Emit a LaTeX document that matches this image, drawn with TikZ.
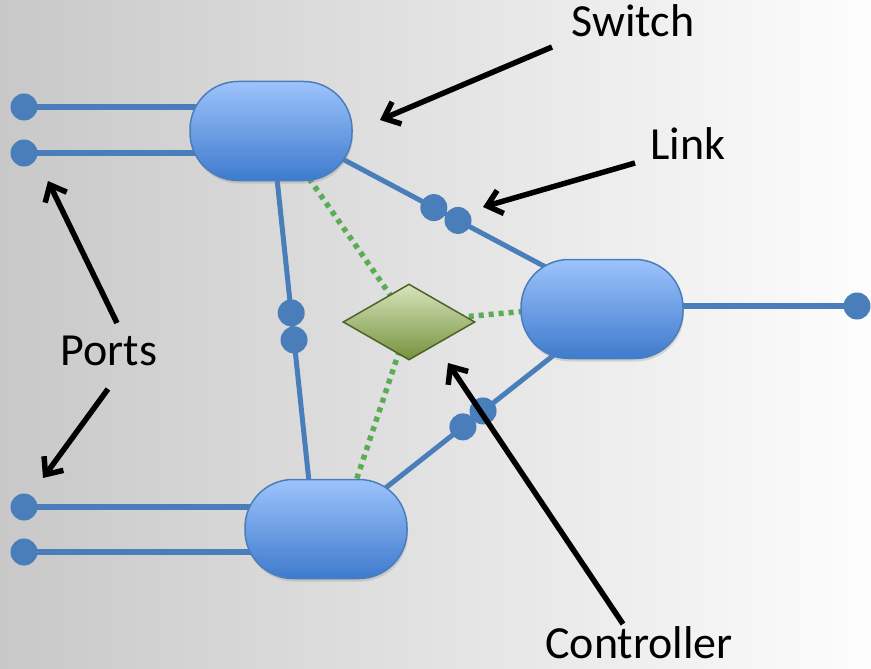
\documentclass[tikz,border=0pt]{standalone}
\usepackage{fontspec}
\setmainfont{Carlito}
\usetikzlibrary{arrows.meta,shapes.geometric,shadows}

\definecolor{linkblue}{RGB}{74,126,187}
\definecolor{swtop}{RGB}{157,195,252}
\definecolor{swbot}{RGB}{62,123,205}
\definecolor{ctltop}{RGB}{215,228,189}
\definecolor{ctlbot}{RGB}{118,146,60}
\definecolor{ctledge}{RGB}{79,98,40}
\definecolor{ctlline}{RGB}{92,172,86}
\definecolor{bgleft}{RGB}{200,200,200}
\definecolor{bgright}{RGB}{253,253,253}

\pgfdeclarelayer{bg}
\pgfdeclarelayer{wires}
\pgfsetlayers{bg,wires,main}

\begin{document}
\begin{tikzpicture}[x=1pt,y=-1pt,
  switchbox/.style={rectangle, rounded corners=48pt, minimum width=162pt,
    minimum height=99pt, inner sep=0pt, top color=swtop, bottom color=swbot,
    draw=linkblue, line width=1.5pt,
    drop shadow={shadow xshift=1pt, shadow yshift=-3pt, opacity=0.25}},
  ctlbox/.style={diamond, minimum width=132pt, minimum height=76pt, inner sep=0pt,
    top color=ctltop, bottom color=ctlbot, draw=ctledge, line width=1.5pt},
  portdot/.style={circle, fill=linkblue, minimum size=27pt, inner sep=0pt},
  portline/.style={draw=linkblue, line width=6pt},
  linkline/.style={draw=linkblue, line width=5pt},
  ctlwire/.style={draw=ctlline, line width=5.5pt, dash pattern=on 5pt off 5pt},
  pointer/.style={draw=black, line width=5.5pt,
    -{Straight Barb[length=14pt, width=24pt]}},
  lbl/.style={font=\fontsize{46}{55}\selectfont, anchor=base, inner sep=0pt}]

% canvas
\begin{pgfonlayer}{bg}
  \fill[left color=bgleft, right color=bgright] (0,0) rectangle (871,669);
\end{pgfonlayer}
\useasboundingbox (0,0) rectangle (871,669);

% switches and controller
\node[switchbox] (s1) at (271,131) {};
\node[switchbox] (s2) at (602,309) {};
\node[switchbox] (s3) at (326,529) {};
\node[ctlbox] (ctl) at (409,322) {};

% external ports
\node[portdot] (p1) at (24,107) {};
\node[portdot] (p2) at (24,153) {};
\node[portdot] (p3) at (24,507) {};
\node[portdot] (p4) at (24,552) {};
\node[portdot] (p5) at (857,306) {};

\begin{pgfonlayer}{wires}
  % control channels
  \draw[ctlwire] (ctl.center) -- ([xshift=5pt]s1.center);
  \draw[ctlwire] (ctl.center) -- ([yshift=5pt]s2.center);
  \draw[ctlwire] (ctl.center) -- ([xshift=14pt]s3.center);
  % port wires
  \draw[portline] (p1.center) -- (s1.center |- p1.center);
  \draw[portline] (p2.center) -- (s1.center |- p2.center);
  \draw[portline] (p3.center) -- (s3.center |- p3.center);
  \draw[portline] (p4.center) -- (s3.center |- p4.center);
  \draw[portline] (p5.center) -- (s2.center |- p5.center);
  % links between switches
  \draw[linkline] ([yshift=10pt]s1.center) -- ([yshift=12pt]s2.center);
  \draw[linkline] ([xshift=1pt]s1.center) -- ([xshift=-12pt]s3.center);
  \draw[linkline] ([yshift=-6pt]s3.center) -- ([yshift=-8pt]s2.center);
\end{pgfonlayer}

% link end points
\path ([yshift=10pt]s1.center) -- ([yshift=12pt]s2.center)
  node[portdot, pos=0.492] (l1a) {} node[portdot, pos=0.565] (l1b) {};
\path ([xshift=1pt]s1.center) -- ([xshift=-12pt]s3.center)
  node[portdot, pos=0.457] (l2a) {} node[portdot, pos=0.525] (l2b) {};
\path ([yshift=-6pt]s3.center) -- ([yshift=-8pt]s2.center)
  node[portdot, pos=0.496] (l3a) {} node[portdot, pos=0.569] (l3b) {};

% labels
\node[lbl] (tsw) at (633,37) {Switch};
\node[lbl] (tlink) at (688,159) {Link};
\node[lbl] (tports) at (109,365) {Ports};
\node[lbl] (tctl) at (639,658) {Controller};

% pointers
\coordinate (swtail) at (552,47);   \coordinate (swtip) at (380,120);
\coordinate (lktail) at (635,163);  \coordinate (lktip) at (483,207);
\coordinate (pttailA) at (117,323); \coordinate (pttipA) at (48,181);
\coordinate (pttailB) at (108,389); \coordinate (pttipB) at (43,478);
\coordinate (cttail) at (623,624);  \coordinate (cttip) at (448,363);
\draw[pointer] (swtail) -- (swtip);
\draw[pointer] (lktail) -- (lktip);
\draw[pointer] (pttailA) -- (pttipA);
\draw[pointer] (pttailB) -- (pttipB);
\draw[pointer] (cttail) -- (cttip);
\end{tikzpicture}
\end{document}
